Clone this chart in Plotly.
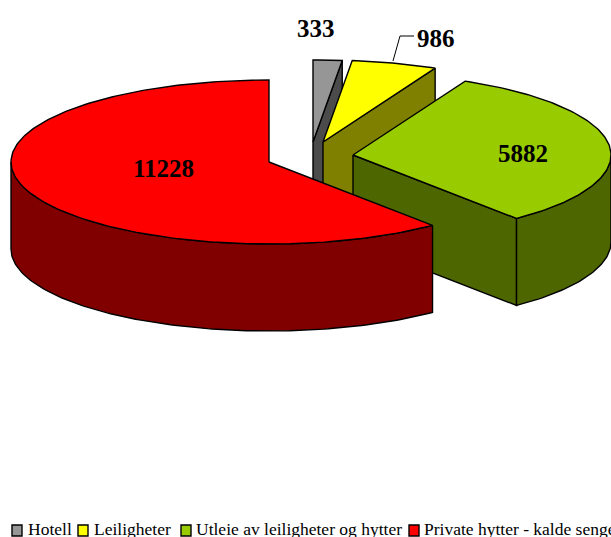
import numpy as np
import plotly.graph_objects as go

categories = ["Hotell", "Leiligheter", "Utleie av leiligheter og hytter", "Private hytter - kalde senger"]
values = [333, 986, 5882, 11228]
value_labels = ["333", "986", "5882", "11228"]
top_colors = ["#969696", "#ffff00", "#99cc00", "#ff0000"]
wall_colors = ["#4b4b4b", "#808000", "#4d6600", "#800000"]

# Projection of the exploded pie, in picture pixels
centers = [(313, 142), (323, 142), (353, 155), (269, 162)]
RX, RY, DEPTH = 258, 82, 87
FONT = "Liberation Serif"

angles = np.cumsum([0] + values) / sum(values) * 2 * np.pi


def rim(c, a0, a1, dy=0):
    t = np.linspace(a0, a1, max(int((a1 - a0) * 60), 2))
    return c[0] + RX * np.sin(t), c[1] - RY * np.cos(t) + dy


fig = go.Figure()


def poly(x, y, color):
    fig.add_trace(go.Scatter(
        x=list(x), y=list(y), mode="lines", fill="toself", fillcolor=color,
        line=dict(color="black", width=1.4), hoverinfo="skip", showlegend=False))


for i in range(len(values)):
    c, a0, a1 = centers[i], angles[i], angles[i + 1]
    # Cut face at the wedge's end, when it turns toward the viewer
    if a1 < np.pi:
        ex, ey = rim(c, a1, a1)
        poly([c[0], ex[0], ex[0], c[0], c[0]],
             [c[1], ey[0], ey[0] + DEPTH, c[1] + DEPTH, c[1]], wall_colors[i])
    # Outer wall: only the part of the rim on the near side
    w0, w1 = max(a0, np.pi / 2), min(a1, 3 * np.pi / 2)
    if w0 < w1:
        xt, yt = rim(c, w0, w1)
        xb, yb = rim(c, w0, w1, DEPTH)
        poly(np.r_[xt, xb[::-1], xt[0]], np.r_[yt, yb[::-1], yt[0]], wall_colors[i])
    # Top face
    xt, yt = rim(c, a0, a1)
    poly(np.r_[c[0], xt, c[0]], np.r_[c[1], yt, c[1]], top_colors[i])

# Data labels
label_pos = [(316, 28), (436, 38), (523, 153), (163, 168)]
annotations = [dict(x=p[0], y=p[1], text=f"<b>{t}</b>", showarrow=False, xanchor="center", yanchor="middle",
                    font=dict(family=FONT, size=25, color="black"))
               for p, t in zip(label_pos, value_labels)]

# Legend row, clipped by the picture's edges as in the original
legend_box_x = [12, 78, 181, 409]
legend_text_x = [28, 94, 196, 424]
shapes = [dict(type="rect", x0=x, x1=x + 10, y0=525, y1=536, fillcolor=col,
               line=dict(color="black", width=1.4), layer="above")
          for x, col in zip(legend_box_x, top_colors)]
annotations += [dict(x=x, y=529, text=t, showarrow=False, xanchor="left", yanchor="middle",
                     font=dict(family=FONT, size=17.5, color="black"), xshift=-2)
                for x, t in zip(legend_text_x, categories)]

# Leader line for the 986 label
shapes.append(dict(type="path", path="M 414 36 L 400 36 L 393 61", line=dict(color="black", width=1)))

fig.update_layout(
    width=611, height=537, autosize=False,
    margin=dict(l=0, r=0, t=0, b=0),
    paper_bgcolor="white", plot_bgcolor="white",
    xaxis=dict(range=[0, 611], visible=False, fixedrange=True),
    yaxis=dict(range=[537, 0], visible=False, fixedrange=True),
    showlegend=False, annotations=annotations, shapes=shapes,
)
fig.write_html("out.html", config={"displayModeBar": False, "responsive": False},
               post_script="document.body.style.margin='0';document.documentElement.style.overflow='hidden';")
